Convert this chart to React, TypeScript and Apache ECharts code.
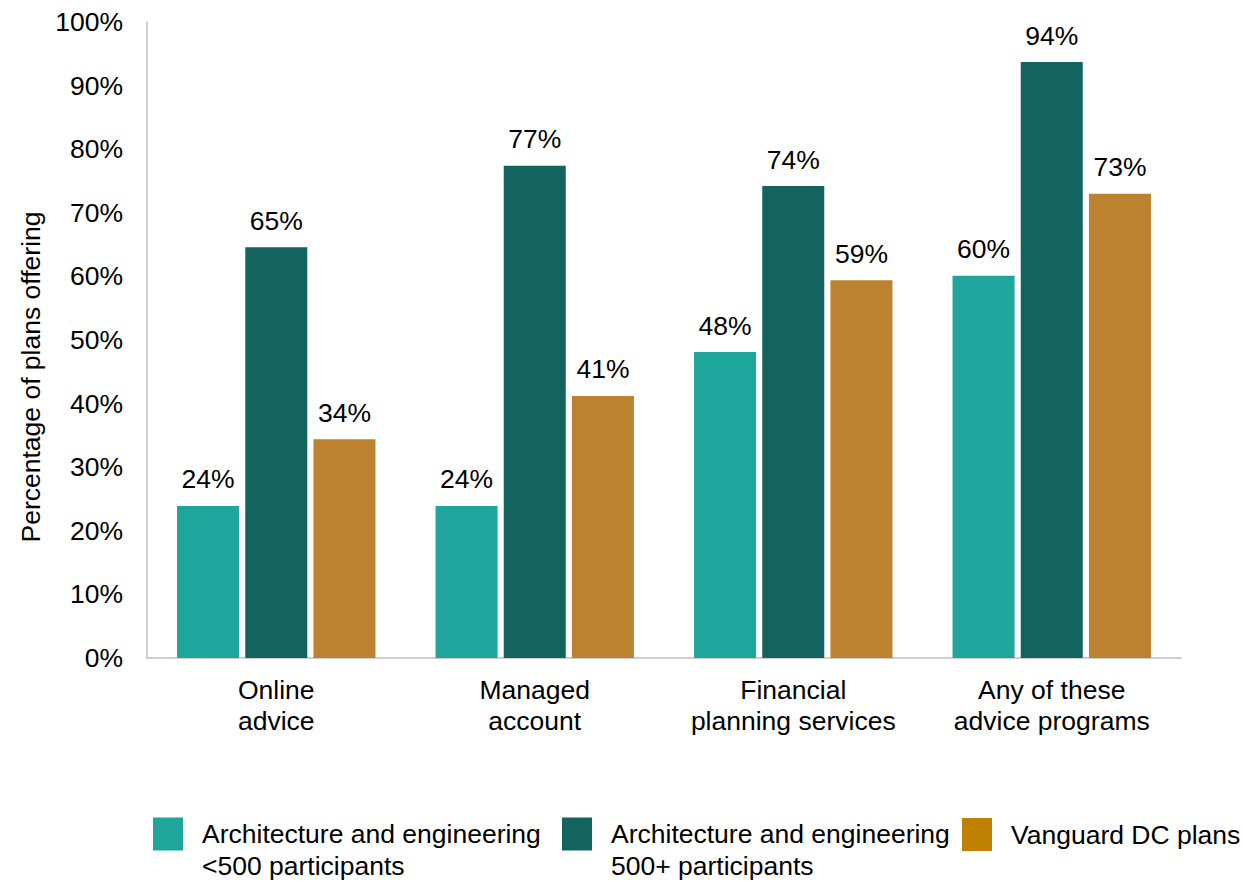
import React, { useEffect, useRef } from "react";
import * as echarts from "echarts";

const categories = ["Online\nadvice", "Managed\naccount", "Financial\nplanning services", "Any of these\nadvice programs"];
const seriesNames = [
  "Architecture and engineering\n<500 participants",
  "Architecture and engineering\n500+ participants",
  "Vanguard DC plans",
];
const small = [23.9, 23.9, 48.1, 60.1];
const large = [64.6, 77.4, 74.2, 93.7];
const vanguard = [34.4, 41.2, 59.4, 73.0];
const yTicks = [0, 10, 20, 30, 40, 50, 60, 70, 80, 90, 100];

const barColors = ["#1ea59c", "#13635e", "#bd8230"];
const legendColors = ["#1ea59c", "#13635e", "#c08000"];
const FONT = "Liberation Sans, Arial, sans-serif";
const FS = 26.5;

export default function App() {
  const ref = useRef<HTMLDivElement>(null);
  useEffect(() => {
    if (!ref.current) return;
    const chart = echarts.init(ref.current, undefined, { renderer: "svg" });
    const values = [small, large, vanguard];
    const mkLegend = (i: number, left: number, top: number, twoLine: boolean) => ({
      show: true,
      left,
      top,
      padding: 0,
      orient: "horizontal",
      selectedMode: false,
      itemWidth: 30,
      itemHeight: 33,
      icon: "rect",
      data: [{ name: seriesNames[i], itemStyle: { color: legendColors[i] } }],
      formatter: (name: string) => (twoLine ? "\n" + name : name),
      textStyle: {
        fontFamily: FONT,
        fontSize: FS,
        color: "#000",
        lineHeight: 32,
        padding: [0, 0, 0, 14],
      },
    });
    chart.setOption({
      animation: false,
      textStyle: { fontFamily: FONT },
      grid: { left: 147, right: 62, top: 22, bottom: 224, containLabel: false },
      legend: [
        mkLegend(0, 153, 786, true),
        mkLegend(1, 562, 786, true),
        mkLegend(2, 962, 818, false),
      ],
      xAxis: {
        type: "category",
        data: categories,
        axisLine: { lineStyle: { color: "#bfbfbf", width: 1.5 } },
        axisTick: { show: false },
        axisLabel: {
          fontFamily: FONT,
          fontSize: FS,
          color: "#000",
          lineHeight: 31,
          margin: 16,
          interval: 0,
        },
      },
      yAxis: {
        type: "value",
        min: 0,
        max: 100,
        interval: 10,
        name: "Percentage of plans offering",
        nameLocation: "middle",
        nameGap: 102,
        nameTextStyle: { fontFamily: FONT, fontSize: FS, color: "#000", padding: [0, 74, 0, 0] },
        axisLine: { show: true, lineStyle: { color: "#bfbfbf", width: 1.5 } },
        axisTick: { show: false },
        splitLine: { show: false },
        axisLabel: {
          fontFamily: FONT,
          fontSize: FS,
          color: "#000",
          margin: 24,
          formatter: (v: number) => (yTicks.includes(v) ? `${v}%` : ""),
        },
      },
      series: values.map((d, i) => ({
        type: "bar",
        name: seriesNames[i],
        data: d,
        barWidth: 62,
        barGap: "10%",
        itemStyle: { color: barColors[i] },
        label: {
          show: true,
          position: "top",
          distance: 13,
          fontFamily: FONT,
          fontSize: FS,
          color: "#000",
          formatter: (p: any) => `${Math.round(p.value)}%`,
        },
      })),
    });
    return () => chart.dispose();
  }, []);
  return <div ref={ref} style={{ width: 1243, height: 882, position: "absolute", left: 0, top: 0 }} />;
}
